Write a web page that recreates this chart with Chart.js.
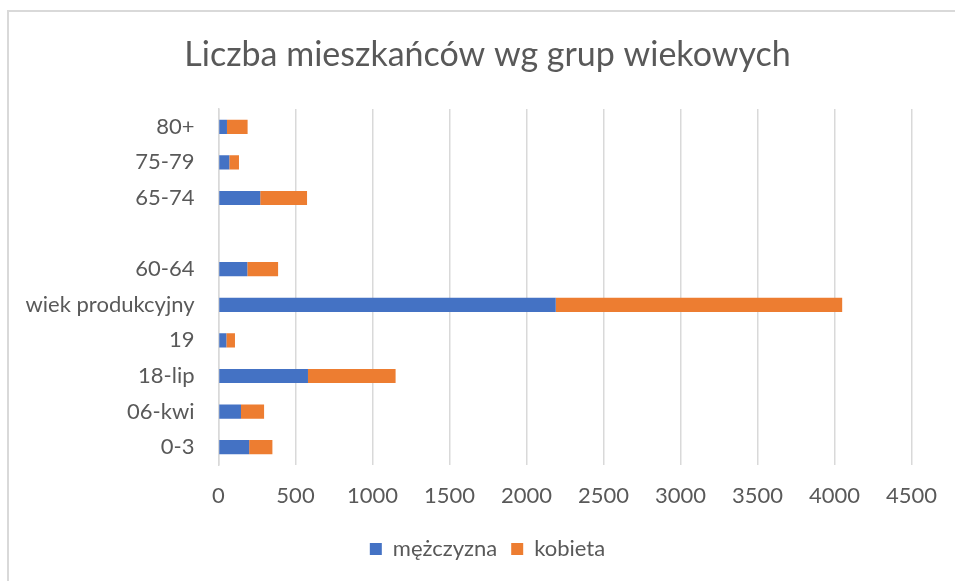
<!DOCTYPE html>
<html>
<head>
<meta charset="utf-8">
<script src="https://cdn.jsdelivr.net/npm/chart.js@4"></script>
<style>
  html, body { margin: 0; padding: 0; background: #ffffff; }
  #wrap { position: relative; width: 955px; height: 581px; overflow: hidden; }
  #frame { position: absolute; left: 7px; top: 10px; width: 1000px; height: 1000px;
           border-left: 2px solid #d9d9d9; border-top: 2px solid #d9d9d9; box-sizing: border-box; }
  canvas { position: absolute; left: 0; top: 0; }
</style>
</head>
<body>
<div id="wrap">
  <div id="frame"></div>
  <canvas id="c" width="955" height="581"></canvas>
</div>
<script>
const categories = ['80+', '75-79', '65-74', '', '60-64', 'wiek produkcyjny', '19', '18-lip', '06-kwi', '0-3'];
const menValues = [55, 70, 271, null, 187, 2190, 51, 581, 146, 199];
const womenValues = [134, 63, 304, null, 200, 1860, 56, 569, 150, 151];
const xTicks = [0, 500, 1000, 1500, 2000, 2500, 3000, 3500, 4000, 4500];
const chartTitle = 'Liczba mieszkańców wg grup wiekowych';
const seriesNames = ['mężczyzna', 'kobieta'];

const FONT = 'Lato, "Open Sans", sans-serif';
const TXT = '#595959';

new Chart(document.getElementById('c'), {
  type: 'bar',
  data: {
    labels: categories,
    datasets: [
      { label: seriesNames[0], data: menValues, backgroundColor: '#4472C4', borderWidth: 0 },
      { label: seriesNames[1], data: womenValues, backgroundColor: '#ED7D31', borderWidth: 0 }
    ]
  },
  options: {
    indexAxis: 'y',
    responsive: false,
    animation: false,
    devicePixelRatio: 1,
    barPercentage: 0.8,
    categoryPercentage: 0.5,
    layout: { padding: { left: 61, right: 41, top: 0, bottom: 11 } },
    plugins: {
      title: {
        display: true,
        text: chartTitle,
        color: TXT,
        font: { family: FONT, size: 34, weight: 'normal', lineHeight: 1.2 },
        padding: { top: 34.6, bottom: 33.6 }
      },
      legend: {
        display: true,
        position: 'bottom',
        labels: {
          color: TXT,
          font: { family: FONT, size: 22 },
          boxWidth: 12,
          boxHeight: 12,
          padding: 14
        }
      },
      tooltip: { enabled: false }
    },
    scales: {
      x: {
        stacked: true,
        min: 0,
        max: 4500,
        afterBuildTicks: (scale) => { scale.ticks = xTicks.map(v => ({ value: v })); },
        afterFit: (scale) => { scale.height = 59; },
        ticks: { color: TXT, font: { family: FONT, size: 22 }, padding: 18,
                 callback: (v) => String(v) },
        grid: { color: '#d9d9d9', lineWidth: 1.5, drawTicks: false },
        border: { display: false }
      },
      y: {
        stacked: true,
        afterFit: (scale) => {
          scale.width = 157.5;
          // let long category labels extend into the left padding instead of being clipped
          scale._computeLabelArea = () => undefined;
        },
        ticks: { color: TXT, font: { family: FONT, size: 22 }, padding: 24 },
        grid: { display: false, drawTicks: false },
        border: { display: true, color: '#d9d9d9', width: 1.5 }
      }
    }
  }
});
</script>
</body>
</html>
